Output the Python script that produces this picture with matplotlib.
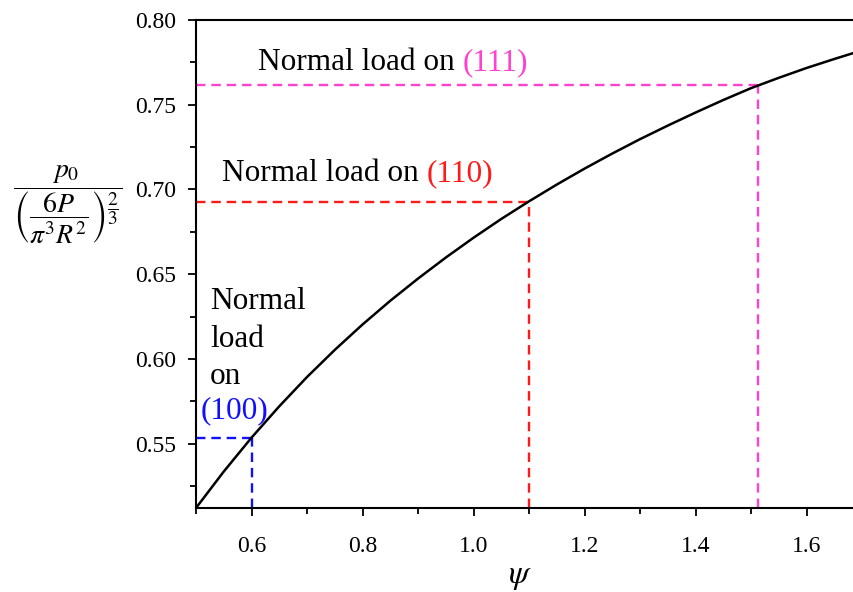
import numpy as np
import matplotlib
matplotlib.use('Agg')
import matplotlib.pyplot as plt
from matplotlib.ticker import MultipleLocator

plt.rcParams['font.family'] = 'Liberation Serif'
plt.rcParams['mathtext.fontset'] = 'stix'

# curve
psi = [0.5, 0.55, 0.6, 0.65, 0.7, 0.75, 0.8, 0.85, 0.9, 0.95, 1.0, 1.05,
       1.1, 1.15, 1.2, 1.25, 1.3, 1.35, 1.4, 1.45, 1.5, 1.55, 1.6, 1.65, 1.7]
p_ratio = [0.512, 0.5335, 0.5535, 0.5720, 0.5893, 0.6053, 0.6203, 0.6343,
           0.6474, 0.6598, 0.6715, 0.6826, 0.6930, 0.7029, 0.7123, 0.7212,
           0.7297, 0.7377, 0.7454, 0.7528, 0.7598, 0.7659, 0.7717, 0.7770, 0.7821]

# marked planes
planes = ['(100)', '(110)', '(111)']
plane_psi = [0.6, 1.1, 1.513]
plane_p = [0.5535, 0.6928, 0.7614]
plane_colors = ['#1010ff', '#ff1a1a', '#ff40d0']

fig = plt.figure(figsize=(8.54, 5.92), dpi=100)
ax = fig.add_axes([0.2295, 0.1419, 0.78, 0.8243])

ax.plot(psi, p_ratio, color='black', lw=1.8, zorder=3)

for x, y, c in zip(plane_psi, plane_p, plane_colors):
    ax.plot([0.5, x], [y, y], color=c, lw=1.7, ls=(0, (4, 2.5)))
    ax.plot([x, x], [0.512, y], color=c, lw=1.7, ls=(0, (4, 2.5)))

ax.set_xlim(0.5, 1.7)
ax.set_ylim(0.512, 0.80)
ax.xaxis.set_minor_locator(MultipleLocator(0.1))
ax.yaxis.set_minor_locator(MultipleLocator(0.025))
ax.set_xticks([0.6, 0.8, 1.0, 1.2, 1.4, 1.6])
ax.set_xticklabels(['0.6', '0.8', '1.0', '1.2', '1.4', '1.6'])
ax.set_yticks([0.55, 0.60, 0.65, 0.70, 0.75, 0.80])
ax.set_yticklabels(['0.55', '0.60', '0.65', '0.70', '0.75', '0.80'])
ax.tick_params(which='major', direction='out', length=6, width=1.3, labelsize=17)
ax.tick_params(which='minor', direction='out', length=4, width=1.3)
ax.tick_params(axis='x', which='major', pad=14)
ax.tick_params(axis='y', which='major', pad=8)
for s in ax.spines.values():
    s.set_linewidth(1.5)

fs = 22.5
t1 = ax.text(0.612, 0.7706, 'Normal load on ', fontsize=fs, va='baseline')
ax.annotate(planes[2], xy=(1, 0), xycoords=t1, va='bottom', ha='left',
            fontsize=fs, color=plane_colors[2])
t2 = ax.text(0.546, 0.7049, 'Normal load on ', fontsize=fs, va='baseline')
ax.annotate(planes[1], xy=(1, 0), xycoords=t2, va='bottom', ha='left',
            fontsize=fs, color=plane_colors[1])
for word, yb in zip(['Normal', 'load', 'on'], [0.6294, 0.6073, 0.5853]):
    ax.text(0.525, yb, word, fontsize=fs, va='baseline')
ax.text(0.508, 0.5652, planes[0], fontsize=fs, va='baseline', color=plane_colors[0])

fig.text(520 / 854, 1 - 577 / 592, r'$\psi$', fontsize=24, ha='center', va='center')
fig.text(68 / 854, 1 - 205 / 592,
         r'$\dfrac{p_0}{\left(\dfrac{6P}{\pi^3R^2}\right)^{\dfrac{2}{3}}}$',
         fontsize=20, ha='center', va='center')

fig.savefig('out.png', dpi=100)
